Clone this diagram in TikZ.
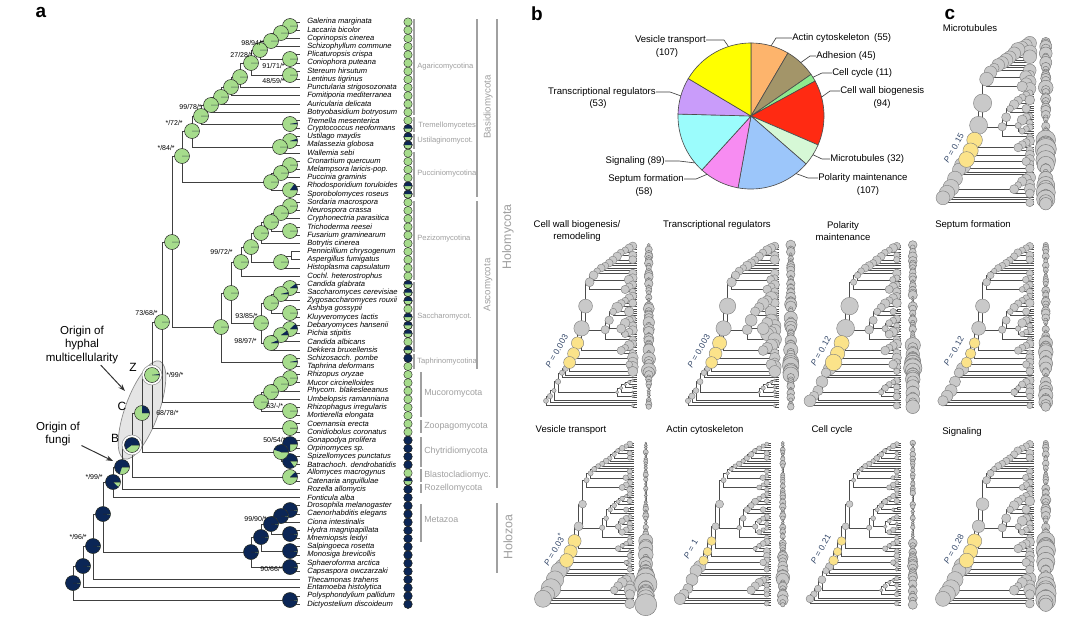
\documentclass[tikz,border=0pt]{standalone}
\usepackage{fontspec}
\setmainfont{Liberation Sans}
\usetikzlibrary{arrows.meta}

\definecolor{fungi}{HTML}{A6DC8C}
\definecolor{navy}{HTML}{0B2656}
\definecolor{cladegray}{HTML}{A0A0A0}
\definecolor{ancyellow}{HTML}{FBE38A}
\definecolor{pgray}{HTML}{C9C9C9}
\definecolor{ptext}{HTML}{34486A}
\definecolor{cActin}{HTML}{FDB46C}
\definecolor{cAdh}{HTML}{A39569}
\definecolor{cCyc}{HTML}{8EEA8E}
\definecolor{cWall}{HTML}{FF2A12}
\definecolor{cMicro}{HTML}{D6F8D6}
\definecolor{cPol}{HTML}{9CC6FA}
\definecolor{cSept}{HTML}{F78CF2}
\definecolor{cSig}{HTML}{9BFCFC}
\definecolor{cTrans}{HTML}{C99CFA}
\definecolor{cVes}{HTML}{FFFF00}

\tikzset{
  branch/.style={draw=black!75, line width=0.6pt},
  minibranch/.style={draw=black!70, line width=0.3pt},
  pieline/.style={draw=black!85, line width=0.35pt},
  halo/.style={draw=black!40, fill=white, line width=0.4pt},
  tipdot/.style={circle, draw=black!85, line width=0.3pt, fill=fungi, minimum size=0.21cm, inner sep=0pt},
  species/.style={anchor=west, inner sep=0pt, font=\fontsize{5.4}{6}\selectfont\itshape},
  boot/.style={inner sep=0pt, font=\fontsize{5}{6}\selectfont},
  cladebar/.style={draw=cladegray, line width=0.8pt},
  cladelab/.style={anchor=west, inner sep=0pt, text=cladegray, font=\fontsize{5.4}{6}\selectfont},
  phylab/.style={anchor=west, inner sep=0pt, text=cladegray, font=\fontsize{6.3}{7}\selectfont},
  biglab/.style={rotate=90, inner sep=0pt, text=cladegray, font=\fontsize{6.9}{8}\selectfont},
  hugelab/.style={rotate=90, inner sep=0pt, text=cladegray, font=\fontsize{8.8}{10}\selectfont},
  origin/.style={align=center, inner sep=1pt, font=\fontsize{8.2}{9.3}\selectfont},
  nodeletter/.style={inner sep=0pt, font=\fontsize{8.5}{10}\selectfont},
  arr/.style={-{Stealth[length=5pt,width=3.6pt]}, draw=black!80, line width=0.7pt},
  panel/.style={inner sep=0pt, font=\fontsize{13.5}{15}\selectfont\bfseries},
  pielab/.style={inner sep=0pt, font=\fontsize{6.8}{8}\selectfont},
  leader/.style={draw=black!75, line width=0.45pt},
  minititle/.style={align=center, inner sep=0pt, font=\fontsize{6.8}{8.2}\selectfont},
  minic/.style={fill=pgray, draw=black!50, line width=0.3pt},
  ancc/.style={fill=ancyellow, draw=black!50, line width=0.3pt},
  colc/.style={fill=pgray, draw=black!55, line width=0.3pt},
  ptxt/.style={rotate=60, inner sep=0pt, text=ptext, font=\fontsize{6}{7}\selectfont}
}

% species tree, in pixel units of panel a
\newcommand{\treecoords}{%
  \foreach \ii in {1,...,72}{\coordinate (t\ii) at (300,{22+8.2*(\ii-1)});}
  % Basidiomycota
  \coordinate (a1) at (290,26); \coordinate (a2) at (281,33); \coordinate (a3) at (271,41);
  \coordinate (c56) at (290,59); \coordinate (a4) at (260,50); \coordinate (c78) at (290,75);
  \coordinate (a5) at (251,63); \coordinate (a6) at (240,77); \coordinate (a7) at (231,87);
  \coordinate (a8) at (221,97); \coordinate (a9) at (211,105); \coordinate (tre) at (290,124);
  \coordinate (b1) at (201,116); \coordinate (ust) at (290,141); \coordinate (ust2) at (280,147);
  \coordinate (b2) at (192,131); \coordinate (p1) at (290,165); \coordinate (p2) at (281,173);
  \coordinate (c2122) at (290,190); \coordinate (p3) at (271,182); \coordinate (bas) at (182,156);
  % Ascomycota
  \coordinate (q1) at (290,206); \coordinate (q2) at (281,213); \coordinate (c2627) at (290,231);
  \coordinate (q3) at (271,222); \coordinate (q4) at (261,233); \coordinate (e0) at (291,256);
  \coordinate (e1) at (281,262); \coordinate (q5) at (251,247); \coordinate (q6) at (241,262);
  \coordinate (s1) at (290,288); \coordinate (s2) at (281,294); \coordinate (c3637) at (290,313);
  \coordinate (s3) at (271,303); \coordinate (s5) at (290,329); \coordinate (s6) at (281,335);
  \coordinate (s7) at (271,343); \coordinate (s4) at (261,323); \coordinate (sp) at (231,293);
  \coordinate (tap) at (290,362); \coordinate (asc) at (221,327); \coordinate (dik) at (172,242);
  % early diverging fungi
  \coordinate (m1) at (290,378); \coordinate (m2) at (281,384); \coordinate (m3) at (271,392);
  \coordinate (c4849) at (290,411); \coordinate (m4) at (261,402); \coordinate (x1) at (162,322);
  \coordinate (zoo) at (290,428); \coordinate (zn) at (152,375); \coordinate (ch1) at (290,444);
  \coordinate (ch2) at (290,461); \coordinate (chy) at (281,452); \coordinate (cn) at (142,413);
  \coordinate (bla) at (290,477); \coordinate (bn) at (132,445); \coordinate (fun) at (122,467);
  \coordinate (hm) at (113,482);
  % Holozoa and outgroups
  \coordinate (h1) at (290,510); \coordinate (h2) at (281,516); \coordinate (c6364) at (290,534);
  \coordinate (met) at (271,524); \coordinate (cho) at (290,551); \coordinate (h3) at (261,537);
  \coordinate (c6768) at (290,567); \coordinate (hz) at (251,552); \coordinate (op) at (103,514);
  \coordinate (n3) at (93,546); \coordinate (n2) at (83,566); \coordinate (dic) at (290,600);
  \coordinate (root) at (73,583);
}

\newcommand{\treeedges}{%
  \foreach \pnode/\cnode in {a1/t1,a1/t2,a2/a1,a2/t3,a3/a2,a3/t4,c56/t5,c56/t6,a4/a3,a4/c56,
    c78/t7,c78/t8,a5/a4,a5/c78,a6/a5,a6/t9,a7/a6,a7/t10,a8/a7,a8/t11,a9/a8,a9/t12,
    tre/t13,tre/t14,b1/a9,b1/tre,ust/t15,ust/t16,ust2/ust,ust2/t17,b2/b1,b2/ust2,
    p1/t18,p1/t19,p2/p1,p2/t20,c2122/t21,c2122/t22,p3/p2,p3/c2122,bas/b2,bas/p3,
    q1/t23,q1/t24,q2/q1,q2/t25,c2627/t26,c2627/t27,q3/q2,q3/c2627,q4/q3,q4/t28,
    e0/t29,e0/t30,e1/e0,e1/t31,q5/q4,q5/e1,q6/q5,q6/t32,s1/t33,s1/t34,s2/s1,s2/t35,
    c3637/t36,c3637/t37,s3/s2,s3/c3637,s5/t38,s5/t39,s6/s5,s6/t40,s7/s6,s7/t41,
    s4/s3,s4/s7,sp/q6,sp/s4,tap/t42,tap/t43,asc/sp,asc/tap,dik/bas,dik/asc,
    m1/t44,m1/t45,m2/m1,m2/t46,m3/m2,m3/t47,c4849/t48,c4849/t49,m4/m3,m4/c4849,
    x1/dik,x1/m4,zoo/t50,zoo/t51,zn/x1,zn/zoo,ch1/t52,ch1/t53,ch2/t54,ch2/t55,
    chy/ch1,chy/ch2,cn/zn,cn/chy,bla/t56,bla/t57,bn/cn,bn/bla,fun/bn,fun/t58,hm/fun,hm/t59,
    h1/t60,h1/t61,h2/h1,h2/t62,c6364/t63,c6364/t64,met/h2,met/c6364,cho/t65,cho/t66,
    h3/met,h3/cho,c6768/t67,c6768/t68,hz/h3,hz/c6768,op/hm,op/hz,n3/op,n3/t69,
    n2/n3,n2/t70,dic/t71,dic/t72,root/n2,root/dic}
    {\draw[branch] (\pnode) |- (\cnode);}
}

\newcommand{\grpA}{a1,a2,a3,c56,a4,c78,a5,a6,a7,a8,a9,tre,b1,ust,ust2,b2,p1,p2,c2122,p3,bas}
\newcommand{\grpS}{q1,q2,c2627,q3,q4,e1,q5,q6,s1,s2,c3637,s3,s5,s6,s7,s4,sp,tap,asc,m1,m2,m3,c4849,m4,zoo,ch1,ch2,chy,bla}
\newcommand{\grpH}{h1,h2,c6364,met,cho,h3,c6768,hz,dic}
\newcommand{\grpO}{fun,hm,op,n3,n2,root}

% ancestral state pie: node, fraction of the second state
\newcommand{\pienode}[2]{%
  \fill[fungi] (#1) circle[radius=0.1875cm];
  \fill[navy] (#1) -- ++(0:0.1875cm) arc[start angle=0, end angle={#2*360}, radius=0.1875cm] -- cycle;
  \draw[pieline] (#1) circle[radius=0.1875cm] (#1) -- ++(0:0.1875cm);
}

% small tree: prefix, root x, top y, P value, radii (px) basidio/asco/backbone/ancestral/outgroup
\newcommand{\minitree}[9]{%
  \begin{scope}[name prefix=#1-, shift={(#2-29.2,#3-6.12)}, x=0.01cm, y=-0.00695cm, branch/.style={minibranch}]
    \pgfmathsetseed{#2}
    \treecoords
    \treeedges
    \coordinate (ctop) at (330,22);
    \coordinate (cbot) at (330,604);
    \draw[minibranch] (ctop) -- (cbot);
    \foreach \ii in {1,...,72}{
      \pgfmathsetmacro\rbase{\ii<23 ? #5 : (\ii<44 ? #6 : (\ii<59 ? #8 : #9))}
      \pgfmathsetmacro\crad{\rbase*0.9*(0.3+1.0*rnd)}
      \filldraw[colc] (330,{22+8.2*(\ii-1)}) circle[radius=\crad pt];
    }
    \foreach \n in \grpH {\pgfmathsetmacro\crad{#9*0.55*(0.7+0.6*rnd)}\filldraw[minic] (\n) circle[radius=\crad pt];}
    \foreach \n in \grpA {\pgfmathsetmacro\crad{#5*0.95*(0.8+0.4*rnd)}\filldraw[minic] (\n) circle[radius=\crad pt];}
    \foreach \n in \grpS {\pgfmathsetmacro\crad{#6*0.95*(0.7+0.5*rnd)}\filldraw[minic] (\n) circle[radius=\crad pt];}
    \foreach \n in \grpO {\pgfmathsetmacro\crad{#9*0.92*(0.8+0.3*rnd)}\filldraw[minic] (\n) circle[radius=\crad pt];}
    \foreach \n in {x1,dik} {\pgfmathsetmacro\crad{#7*0.92*(0.9+0.2*rnd)}\filldraw[minic] (\n) circle[radius=\crad pt];}
    \foreach \n in {zn,cn,bn} {\pgfmathsetmacro\crad{#8*0.92*(0.9+0.2*rnd)}\filldraw[ancc] (\n) circle[radius=\crad pt];}
    \node[ptxt] (pval) at (100,404) {\textit{P} = #4};
  \end{scope}
}

\begin{document}
\begin{tikzpicture}[x=0.025cm, y=-0.025cm]
\fill[white] (0,0) rectangle (1080,618);
\useasboundingbox (0,0) rectangle (1080,618);

%% panel a
\node[panel] (pa) at (41,12) {a};
\draw[fill=black!10, draw=black!45, line width=0.5pt, rotate around={70:(142,410)}] (142,410) ellipse (1.3cm and 0.42cm);
\treecoords
\treeedges
\draw[halo] (zn) circle[radius=0.25cm];
\draw[halo] (bn) circle[radius=0.25cm];
\foreach \n/\f in {a1/0,a2/0,a3/0,c56/0,a4/0,c78/0,a5/0,a6/0,a7/0,a8/0,a9/0,tre/0.03,b1/0,
    ust/0.05,ust2/0,b2/0,p1/0,p2/0,c2122/0.15,p3/0,bas/0,q1/0,q2/0,c2627/0,q3/0,q4/0,e1/0,
    q5/0,q6/0,s1/0.1,s2/0.04,c3637/0,s3/0,s5/0.12,s6/0.1,s7/0.06,s4/0,sp/0,tap/0.03,asc/0,dik/0,
    m1/0,m2/0,m3/0,c4849/0,m4/0,x1/0,zoo/0,zn/0.02,ch1/0.75,ch2/0.85,chy/0.45,cn/0.25,bla/0.12,
    bn/0.6,fun/0.7,hm/0.88,h1/0.98,h2/0.98,c6364/0.98,met/0.98,cho/0.98,h3/0.98,c6768/0.98,
    hz/0.98,op/0.98,n3/0.98,n2/0.98,dic/0.98,root/0.98}
  {\pienode{\n}{\f}}

% states at the tips
\foreach \ii in {1,...,72}{\node[tipdot] (d\ii) at (408,{22+8.2*(\ii-1)}) {};}
\foreach \ii in {42,52,53,54,55,58,59,...,72}
  {\filldraw[fill=navy, draw=black!85, line width=0.3pt] (d\ii) circle[radius=0.105cm];}
\foreach \ii in {14,15,16,21,22,33,34,35,37,38,39,41,57}{
  \fill[navy] (d\ii.east) arc[start angle=0, end angle=180, radius=0.105cm] -- cycle;
  \draw[pieline] (d\ii) circle[radius=0.105cm];}

\foreach \ii/\spname in {1/Galerina marginata,2/Laccaria bicolor,3/Coprinopsis cinerea,
    4/Schizophyllum commune,5/Plicaturopsis crispa,6/Coniophora puteana,7/Stereum hirsutum,
    8/Lentinus tigrinus,9/Punctularia strigosozonata,10/Fomitiporia mediterranea,
    11/Auricularia delicata,12/Botryobasidium botryosum,13/Tremella mesenterica,
    14/Cryptococcus neoformans,15/Ustilago maydis,16/Malassezia globosa,17/Wallemia sebi,
    18/Cronartium quercuum,19/Melampsora laricis-pop.,20/Puccinia graminis,
    21/Rhodosporidium toruloides,22/Sporobolomyces roseus,23/Sordaria macrospora,
    24/Neurospora crassa,25/Cryphonectria parasitica,26/Trichoderma reesei,
    27/Fusarium graminearum,28/Botrytis cinerea,29/Pennicillium chrysogenum,
    30/Aspergillus fumigatus,31/Histoplasma capsulatum,32/Cochl. heterostrophus,
    33/Candida glabrata,34/Saccharomyces cerevisiae,35/Zygosaccharomyces rouxii,
    36/Ashbya gossypii,37/Kluyveromyces lactis,38/Debaryomyces hansenii,39/Pichia stipitis,
    40/Candida albicans,41/Dekkera bruxellensis,42/Schizosacch. pombe,43/Taphrina deformans,
    44/Rhizopus oryzae,45/Mucor circinelloides,46/Phycom. blakesleeanus,
    47/Umbelopsis ramanniana,48/Rhizophagus irregularis,49/Mortierella elongata,
    50/Coemansia erecta,51/Conidiobolus coronatus,52/Gonapodya prolifera,53/Orpinomyces sp.,
    54/Spizellomyces punctatus,55/Batrachoch. dendrobatidis,56/Allomyces macrogynus,
    57/Catenaria anguillulae,58/Rozella allomycis,59/Fonticula alba,
    60/Drosophila melanogaster,61/Caenorhabditis elegans,62/Ciona intestinalis,
    63/Hydra magnipapillata,64/Mnemiopsis leidyi,65/Salpingoeca rosetta,
    66/Monosiga brevicollis,67/Sphaeroforma arctica,68/Capsaspora owczarzaki,
    69/Thecamonas trahens,70/Entamoeba histolytica,71/Polysphondylium pallidum,
    72/Dictyostelium discoideum}
  {\node[species] (lab\ii) at (307,{22+8.2*(\ii-1)}) {\spname};}

% support values
\node[boot, anchor=east] (bs1) at (264,43) {98/94/*};
\node[boot, anchor=east] (bs2) at (253,55) {27/28/*};
\node[boot, anchor=east] (bs3) at (285,66) {91/71/*};
\node[boot, anchor=east] (bs4) at (285,81) {48/59/*};
\node[boot, anchor=east] (bs5) at (202,107) {99/78/*};
\node[boot, anchor=east] (bs6) at (183,123) {*/72/*};
\node[boot, anchor=east] (bs7) at (175,148) {*/84/*};
\node[boot, anchor=east] (bs8) at (233,252) {99/72/*};
\node[boot, anchor=east] (bs9) at (158,313) {73/68/*};
\node[boot, anchor=east] (bs10) at (258,316) {93/85/*};
\node[boot, anchor=east] (bs11) at (257,341) {98/97/*};
\node[boot, anchor=west] (bs12) at (166,375) {*/99/*};
\node[boot, anchor=west] (bs13) at (156,413) {68/78/*};
\node[boot, anchor=west] (bs14) at (266,406) {63/-/*};
\node[boot, anchor=west] (bs15) at (263,440) {50/54/*};
\node[boot, anchor=east] (bs16) at (103,477) {*/99/*};
\node[boot, anchor=east] (bs17) at (267,519) {99/90/*};
\node[boot, anchor=east] (bs18) at (87,537) {*/96/*};
\node[boot, anchor=east] (bs19) at (283,569) {90/66/*};

% clades
\foreach \bx/\ya/\yb in {414/19/115,414/117/132,414/134/149,414/152/197,414/201/280,
    414/282/352,414/354/369,421/372/417,421/420/433,421/437/467,421/469/482,421/484/493,
    421/504/542,477/19/197,477/201/369,497/19/488,497/503/573}
  {\draw[cladebar] (\bx,\ya) -- (\bx,\yb);}
\node[cladelab] (lagar) at (417,67) {Agaricomycotina};
\node[cladelab] (ltrem) at (418,126) {Tremellomycetes};
\node[cladelab] (lusti) at (417,141) {Ustilaginomycot.};
\node[cladelab] (lpucc) at (417,174) {Pucciniomycotina};
\node[cladelab] (lpezi) at (417,239) {Pezizomycotina};
\node[cladelab] (lsacc) at (417,317) {Saccharomycot.};
\node[cladelab] (ltaph) at (417,362) {Taphrinomycotina};
\node[phylab] (lmuco) at (424,393) {Mucoromycota};
\node[phylab] (lzoop) at (424,426) {Zoopagomycota};
\node[phylab] (lchyt) at (424,451) {Chytridiomycota};
\node[phylab] (lblas) at (424,475) {Blastocladiomyc.};
\node[phylab] (lroze) at (424,488) {Rozellomycota};
\node[phylab] (lmeta) at (424,519) {Metazoa};
\node[biglab] (lbasi) at (488,107) {Basidiomycota};
\node[biglab] (lasco) at (488,285) {Ascomycota};
\node[hugelab] (lholm) at (508,237) {Holomycota};
\node[hugelab] (lholz) at (508,537) {Holozoa};

\node[nodeletter] (lz) at (133,367) {Z};
\node[nodeletter] (lc) at (122,406) {C};
\node[nodeletter] (lb) at (115,438) {B};
\node[origin] (ohm) at (82,345) {Origin of\\hyphal\\multicellularity};
\coordinate (ohmtip) at (125,391);
\draw[arr] (ohm) -- (ohmtip);
\node[origin] (ofu) at (58,434) {Origin of\\fungi};
\coordinate (ofutip) at (113,461);
\draw[arr] (ofu) -- (ofutip);

%% panel b
\node[panel] (pb) at (537,14) {b};
\coordinate (pie) at (751,116);
\foreach \sa/\ea/\col in {90/59.585/cActin,59.585/34.70/cAdh,34.70/28.617/cCyc,
    28.617/-23.365/cWall,-23.365/-41.061/cMicro,-41.061/-100.231/cPol,
    -100.231/-132.305/cSept,-132.305/-181.522/cSig,-181.522/-210.831/cTrans,-210.831/-270/cVes}
  {\filldraw[fill=\col, draw=black!70, line width=0.45pt] (pie) -- ++(\sa:1.825cm)
     arc[start angle=\sa, end angle=\ea, radius=1.825cm] -- cycle;}
\path (pie) ++(108:1.825cm) coordinate (eves)
      (pie) ++(74:1.825cm) coordinate (eact)
      (pie) ++(47:1.825cm) coordinate (eadh)
      (pie) ++(32:1.825cm) coordinate (ecyc)
      (pie) ++(15:1.825cm) coordinate (ewal)
      (pie) ++(-32:1.825cm) coordinate (emic)
      (pie) ++(-52:1.825cm) coordinate (epol)
      (pie) ++(-127:1.825cm) coordinate (esep)
      (pie) ++(-140:1.825cm) coordinate (esig)
      (pie) ++(164:1.825cm) coordinate (etra);
\node[pielab, anchor=east] (lves) at (706,40) {Vesicle transport};
\node[pielab] (nves) at (667,53) {(107)};
\node[pielab, anchor=west] (lact) at (792,38) {Actin cytoskeleton\enspace(55)};
\node[pielab, anchor=west] (ladh) at (816,56) {Adhesion (45)};
\node[pielab, anchor=west] (lcyc) at (832,73) {Cell cycle (11)};
\node[pielab, anchor=west] (lwal) at (840,91) {Cell wall biogenesis};
\node[pielab] (nwal) at (882,104) {(94)};
\node[pielab, anchor=west] (lmic) at (830,159) {Microtubules (32)};
\node[pielab, anchor=west] (lpol) at (818,178) {Polarity maintenance};
\node[pielab] (npol) at (868,191) {(107)};
\node[pielab, anchor=east] (lsep) at (684,179) {Septum formation};
\node[pielab] (nsep) at (644,192) {(58)};
\node[pielab, anchor=east] (lsig) at (665,161) {Signaling (89)};
\node[pielab, anchor=east] (ltra) at (656,92) {Transcriptional regulators};
\node[pielab] (ntra) at (598,104) {(53)};
\draw[leader] (lves.east) -- ++(18,0) -- (eves);
\draw[leader] (lact.west) -- ++(-16,0) -- (eact);
\draw[leader] (ladh.west) -- ++(-6,0) -- (eadh);
\draw[leader] (lcyc.west) -- ++(-10,0) -- (ecyc);
\draw[leader] (lwal.west) -- ++(-10,0) -- (ewal);
\draw[leader] (lmic.west) -- ++(-8,0) -- (emic);
\draw[leader] (lpol.west) -- ++(-10,0) -- (epol);
\draw[leader] (lsep.east) -- ++(12,0) -- (esep);
\draw[leader] (lsig.east) -- ++(14,0) -- (esig);
\draw[leader] (ltra.east) -- ++(14,0) -- (etra);

\node[minititle] (ttwal) at (577,231) {Cell wall biogenesis/\\remodeling};
\node[minititle] (tttra) at (717,225) {Transcriptional regulators};
\node[minititle] (ttpol) at (843,231) {Polarity\\maintenance};
\node[minititle] (ttsep) at (973,225) {Septum formation};
\node[minititle] (ttves) at (571,430) {Vesicle transport};
\node[minititle] (ttact) at (705,430) {Actin cytoskeleton};
\node[minititle] (ttcyc) at (832,430) {Cell cycle};
\node[minititle] (ttsig) at (962,432) {Signaling};

\minitree{wal}{546}{245}{0.003}{3}{3.5}{5.5}{4.5}{2}
\minitree{tra}{688}{245}{0.003}{3}{4.2}{6}{5}{2.5}
\minitree{pol}{810}{245}{0.12}{2.8}{3}{6.5}{6}{4.5}
\minitree{sep}{943}{245}{0.12}{2.5}{2.8}{5}{4.5}{4.5}
\minitree{ves}{543}{443}{0.03\textsuperscript{*}}{2}{2}{3.2}{5}{7}
\minitree{act}{680}{443}{1}{1.8}{2.2}{3}{3.5}{4.5}
\minitree{cyc}{810}{443}{0.21}{1.8}{1.8}{2.5}{3.5}{3}
\minitree{sig}{943}{443}{0.28}{2.5}{3.2}{4.5}{6}{6.5}

%% panel c
\node[panel] (pc) at (950,14) {c};
\node[minititle] (ttmic) at (970,28) {Microtubules};
\minitree{mic}{943}{42}{0.15}{4.5}{3.2}{6.5}{6.5}{6}
\end{tikzpicture}
\end{document}
